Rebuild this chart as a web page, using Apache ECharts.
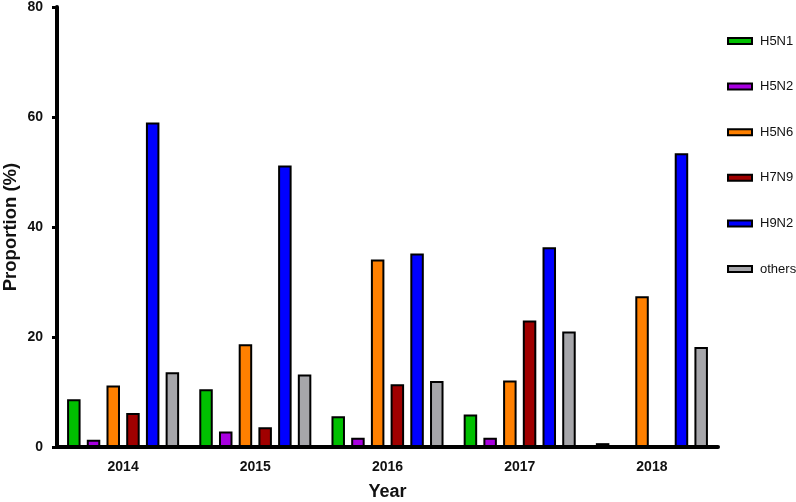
<!DOCTYPE html>
<html>
<head>
<meta charset="utf-8">
<script src="https://cdn.jsdelivr.net/npm/echarts@6/dist/echarts.min.js"></script>
<style>
html,body{margin:0;padding:0;background:#fff;}
#c{width:796px;height:502px;}
</style>
</head>
<body>
<div id="c"></div>
<script>
const years = ['2014', '2015', '2016', '2017', '2018'];
const yTicks = [0, 20, 40, 60, 80];
const seriesNames = ['H5N1', 'H5N2', 'H5N6', 'H7N9', 'H9N2', 'others'];
const h5n1 = [8.7, 10.5, 5.6, 5.9, 0.7];
const h5n2 = [1.3, 2.8, 1.7, 1.7, 0];
const h5n6 = [11.2, 18.7, 34.1, 12.1, 27.4];
const h7n9 = [6.2, 3.6, 11.4, 23.0, 0];
const h9n2 = [59.0, 51.2, 35.2, 36.3, 53.4];
const others = [13.6, 13.2, 12.0, 21.0, 18.2];
const colors = ['#00C000', '#A800E0', '#FF8000', '#A00000', '#0000FF', '#A6A6AA'];

const values = [h5n1, h5n2, h5n6, h7n9, h9n2, others];
const FONT = 'Liberation Sans, Arial, sans-serif';

const chart = echarts.init(document.getElementById('c'));
chart.setOption({
  animation: false,
  backgroundColor: '#fff',
  grid: {left: 57, top: 7, bottom: 55, width: 661, containLabel: false, outerBoundsMode: 'none'},
  legend: {
    orient: 'vertical',
    left: 722,
    top: 28,
    icon: 'rect',
    itemWidth: 24,
    itemHeight: 6,
    itemGap: 29.6,
    itemStyle: {borderColor: '#000', borderWidth: 2},
    textStyle: {fontFamily: FONT, fontSize: 13, color: '#111', lineHeight: 16, padding: [0, 0, 0, 3]},
    data: seriesNames
  },
  xAxis: {
    type: 'category',
    data: years,
    name: 'Year',
    nameLocation: 'middle',
    nameGap: 36,
    nameMoveOverlap: false,
    nameTextStyle: {fontFamily: FONT, fontSize: 18, fontWeight: 'bold', color: '#111'},
    axisLine: {lineStyle: {color: '#000', width: 4}},
    axisTick: {alignWithLabel: true, length: 6, lineStyle: {color: '#000', width: 3}},
    axisLabel: {fontFamily: FONT, fontSize: 14, fontWeight: 'bold', color: '#111', margin: 13}
  },
  yAxis: {
    type: 'value',
    min: yTicks[0],
    max: yTicks[yTicks.length - 1],
    interval: yTicks[1] - yTicks[0],
    name: 'Proportion (%)',
    nameLocation: 'middle',
    nameGap: 37,
    nameMoveOverlap: false,
    nameTextStyle: {fontFamily: FONT, fontSize: 18.5, fontWeight: 'bold', color: '#111'},
    axisLine: {show: true, lineStyle: {color: '#000', width: 4}},
    axisTick: {show: true, length: 5, lineStyle: {color: '#000', width: 3}},
    axisLabel: {fontFamily: FONT, fontSize: 14, fontWeight: 'bold', color: '#111', margin: 14},
    splitLine: {show: false}
  },
  series: seriesNames.map((name, i) => ({
    name: name,
    type: 'bar',
    data: values[i],
    barWidth: 13.5,
    barGap: '46%',
    itemStyle: {color: colors[i], borderColor: '#000', borderWidth: 2}
  }))
});
</script>
</body>
</html>
